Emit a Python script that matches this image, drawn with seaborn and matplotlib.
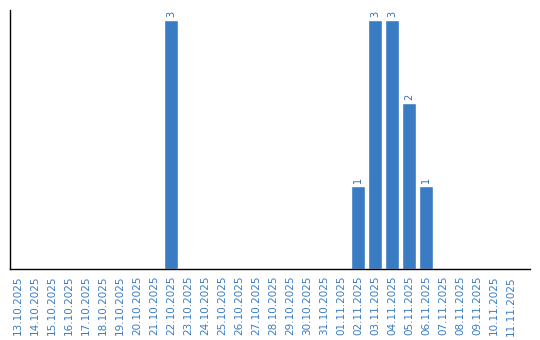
import matplotlib
matplotlib.use("Agg")
import matplotlib.pyplot as plt
import seaborn as sns
import pandas as pd

dates = ["13.10.2025", "14.10.2025", "15.10.2025", "16.10.2025", "17.10.2025",
         "18.10.2025", "19.10.2025", "20.10.2025", "21.10.2025", "22.10.2025",
         "23.10.2025", "24.10.2025", "25.10.2025", "26.10.2025", "27.10.2025",
         "28.10.2025", "29.10.2025", "30.10.2025", "31.10.2025", "01.11.2025",
         "02.11.2025", "03.11.2025", "04.11.2025", "05.11.2025", "06.11.2025",
         "07.11.2025", "08.11.2025", "09.11.2025", "10.11.2025", "11.11.2025"]
counts = [0, 0, 0, 0, 0, 0, 0, 0, 0, 3,
          0, 0, 0, 0, 0, 0, 0, 0, 0, 0,
          1, 3, 3, 2, 1, 0, 0, 0, 0, 0]

df = pd.DataFrame({"date": dates, "count": counts})

sns.set_theme(style="white")
plt.rcParams['font.family'] = ['DejaVu Sans']

W, H = 540, 340
fig = plt.figure(figsize=(W / 100, H / 100), dpi=100)
ax = fig.add_axes([10 / W, 1 - 269 / H, 520 / W, 259 / H])

blue = "#3a7cc4"
sns.barplot(data=df, x="date", y="count", color=blue, width=0.86,
            saturation=1, ax=ax)

for i, v in enumerate(counts):
    if v > 0:
        ax.text(i, v + 0.03, str(v), rotation=90, ha="center", va="bottom",
                fontsize=7, color="#3a6fa8")

ax.set_xlim(-0.47, 30.12)
ax.set_ylim(0, 3.12)
ax.set_xlabel("")
ax.set_ylabel("")
ax.set_yticks([])
ax.tick_params(axis="x", length=0, pad=5, labelsize=7.5, labelcolor=blue)
plt.setp(ax.get_xticklabels(), rotation=90)
for s in ["top", "right"]:
    ax.spines[s].set_visible(False)
for s in ["left", "bottom"]:
    ax.spines[s].set_color("black")
    ax.spines[s].set_linewidth(1)

fig.savefig("out.png", dpi=100)
